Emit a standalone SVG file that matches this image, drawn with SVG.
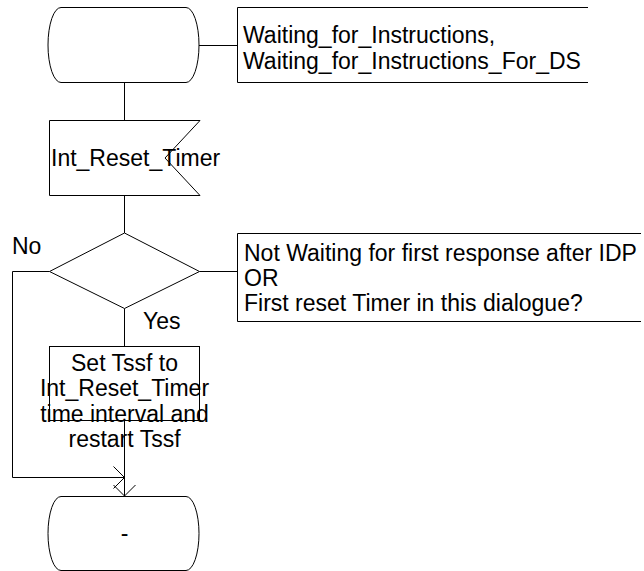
<svg xmlns="http://www.w3.org/2000/svg" width="644" height="571" viewBox="0 0 644 571">
<style>
.s{fill:#fff;stroke:#000;stroke-width:1}
.o{fill:none;stroke:#000;stroke-width:1}
.t{font-family:"Liberation Sans",Arial,sans-serif;font-size:23px;fill:#000}
.m{text-anchor:middle}
</style>
<rect width="644" height="571" fill="#fff"/>
<g id="connectors">
<path class="o" d="M199,45.5 H237.5"/>
<path class="o" d="M124.5,82.5 V120.5"/>
<path class="o" d="M124.5,195.5 V233"/>
<path class="o" d="M199.5,271.5 H237.5"/>
<path class="o" d="M124.5,308.5 V346.5"/>
<path class="o" d="M124.5,420.5 V496"/>
<path class="o" d="M113.5,485 L124.5,496 L135.5,485"/>
<path class="o" d="M49.5,271.5 H12.5 V477.5 H124.5"/>
<path class="o" d="M113.5,466.5 L124.5,477.5 L113.5,488.5"/>
</g>
<g id="start_state">
<path class="s" d="M61,7.5 H186 A13,37.5 0 0 1 186,82.5 H61 A13,37.5 0 0 1 61,7.5 Z"/>
</g>
<g id="comment_state">
<path class="o" d="M588,7.5 H237.5 V82.5 H588"/>
<text class="t" x="243" y="43">Waiting_for_Instructions,</text>
<text class="t" x="243" y="68.5">Waiting_for_Instructions_For_DS</text>
</g>
<g id="input_signal">
<path class="s" d="M49.5,120.5 H200 L165,158 L200,195.5 H49.5 Z"/>
<text class="t" x="51" y="166">Int_Reset_Timer</text>
</g>
<g id="decision">
<path class="s" d="M124.5,233 L199.5,271.5 L124.5,308.5 L49.5,271.5 Z"/>
<text class="t" x="12" y="254">No</text>
<text class="t" x="143" y="329">Yes</text>
</g>
<g id="comment_decision">
<path class="o" d="M641,233.5 H237.5 V321.5 H641"/>
<text class="t" x="244" y="261">Not Waiting for first response after IDP</text>
<text class="t" x="244" y="286">OR</text>
<text class="t" x="244" y="311">First reset Timer in this dialogue?</text>
</g>
<g id="task">
<rect class="s" x="49.5" y="346.5" width="150" height="74"/>
<text class="t m" x="124.5" y="371">Set Tssf to</text>
<text class="t m" x="124.5" y="396.3">Int_Reset_Timer</text>
<text class="t m" x="124.5" y="421.6">time interval and</text>
<text class="t m" x="124.5" y="447">restart Tssf</text>
</g>
<g id="end_state">
<path class="s" d="M61,496.5 H186 A13,37 0 0 1 186,570.5 H61 A13,37 0 0 1 61,496.5 Z"/>
<text class="t m" x="124.5" y="541">-</text>
</g>
</svg>
